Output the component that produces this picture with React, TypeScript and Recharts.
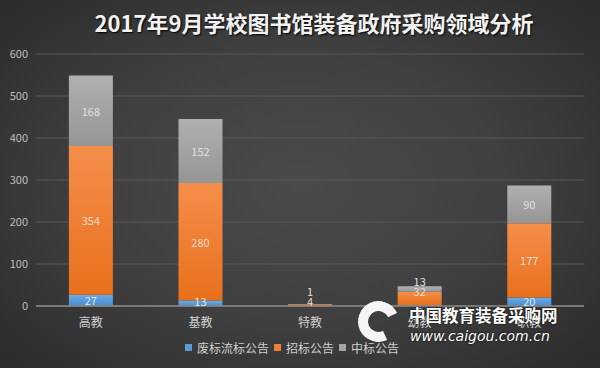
import React from 'react';
import { BarChart, Bar, XAxis, YAxis, CartesianGrid, Legend, LabelList } from 'recharts';

const categories = ['高教', '基教', '特教', '幼教', '职教'];
const failedNotices = [27, 13, 0, 2, 20];
const tenderNotices = [354, 280, 4, 32, 177];
const awardNotices = [168, 152, 1, 13, 90];
const yTicks = [0, 100, 200, 300, 400, 500, 600];
const seriesNames = ['废标流标公告', '招标公告', '中标公告'];
const seriesColors = ['#5b9bd5', '#ed7d31', '#a5a5a5'];
const title = '2017年9月学校图书馆装备政府采购领域分析';

const data = categories.map((c, i) => ({
  name: c,
  failed: failedNotices[i],
  tender: tenderNotices[i],
  award: awardNotices[i],
}));

const FONT = "'Noto Sans CJK SC', 'Noto Sans', sans-serif";

// Compute label positions (Excel-like: small segments push labels upward)
function labelPositions(i: number, k: number, base: number) {
  const f = failedNotices[i];
  const t = tenderNotices[i];
  const a = awardNotices[i];
  const blueY = f > 0 ? Math.min(base - (f * k) / 2, base - 5) : base + 5;
  const orangeY = Math.min(base - (f + t / 2) * k, blueY - 10);
  const grayY = Math.min(base - (f + t + a / 2) * k, orangeY - 10);
  return [blueY, orangeY, grayY];
}

const makeLabel = (seriesIdx: number, fill: string) => (props: any) => {
  const { x, y, width, height, value, index } = props;
  if (!value) return null;
  const k = Number(height) / Number(value);
  let below = 0;
  if (seriesIdx >= 1) below += failedNotices[index];
  if (seriesIdx >= 2) below += tenderNotices[index];
  const base = Number(y) + Number(height) + below * k;
  const ys = labelPositions(index, k, base);
  return (
    <text
      x={Number(x) + Number(width) / 2}
      y={ys[seriesIdx]}
      textAnchor="middle"
      dominantBaseline="central"
      fill={fill}
      fontSize={11}
      fontFamily={FONT}
    >
      {value}
    </text>
  );
};

const LegendContent = () => (
  <div style={{ display: 'flex', justifyContent: 'center', alignItems: 'center', fontFamily: FONT, fontSize: 12, color: '#d0d0d0', height: 18 }}>
    {seriesNames.map((n, i) => (
      <span key={i} style={{ display: 'inline-flex', alignItems: 'center', marginRight: i < seriesNames.length - 1 ? 5 : 0 }}>
        <span style={{ display: 'inline-block', width: 7, height: 7, background: seriesColors[i], marginRight: 5 }} />
        {n}
      </span>
    ))}
  </div>
);

export default function App() {
  return (
    <div
      style={{
        position: 'absolute',
        left: 0,
        top: 0,
        width: 600,
        height: 368,
        overflow: 'hidden',
        background: 'radial-gradient(ellipse 75% 80% at 50% 50%, #4a4a4a 0%, #404040 45%, #2e2e2e 85%, #262626 100%)',
      }}
    >
      <div
        style={{
          position: 'absolute',
          left: 14,
          top: 7,
          width: 600,
          textAlign: 'center',
          fontFamily: FONT,
          fontWeight: 700,
          fontSize: 22,
          color: '#f2f2f2',
          textShadow: '1px 1px 2px #000',
          lineHeight: '30px',
          whiteSpace: 'nowrap',
        }}
      >
        {title}
      </div>
      <BarChart
        width={600}
        height={368}
        data={data}
        margin={{ top: 54, right: 16, bottom: 12, left: 0 }}
        barCategoryGap="30%"
        style={{ position: 'absolute', left: 0, top: 0 }}
      >
        <defs>
          <linearGradient id="gBlue" x1="0" y1="0" x2="0" y2="1">
            <stop offset="0%" stopColor="#6aaae6" />
            <stop offset="100%" stopColor="#4a8ccb" />
          </linearGradient>
          <linearGradient id="gOrange" x1="0" y1="0" x2="0" y2="1">
            <stop offset="0%" stopColor="#f58e4b" />
            <stop offset="100%" stopColor="#e8701c" />
          </linearGradient>
          <linearGradient id="gGray" x1="0" y1="0" x2="0" y2="1">
            <stop offset="0%" stopColor="#b0b0b0" />
            <stop offset="100%" stopColor="#959595" />
          </linearGradient>
        </defs>
        <CartesianGrid vertical={false} stroke="#595959" strokeWidth={1} />
        <XAxis
          dataKey="name"
          height={32}
          tickLine={false}
          axisLine={{ stroke: '#8a8a8a', strokeWidth: 1.5 }}
          tick={{ fill: '#d0d0d0', fontSize: 12, fontFamily: FONT }}
          tickMargin={6}
        />
        <YAxis
          width={36}
          domain={[0, 600]}
          ticks={yTicks}
          axisLine={false}
          tickLine={false}
          tick={{ fill: '#bfbfbf', fontSize: 11, fontFamily: FONT }}
        />
        <Legend verticalAlign="bottom" content={<LegendContent />} />
        <Bar dataKey="failed" name={seriesNames[0]} stackId="a" fill="url(#gBlue)" isAnimationActive={false}>
          <LabelList dataKey="failed" content={makeLabel(0, '#dce6f0')} />
        </Bar>
        <Bar dataKey="tender" name={seriesNames[1]} stackId="a" fill="url(#gOrange)" isAnimationActive={false}>
          <LabelList dataKey="tender" content={makeLabel(1, '#ecdccd')} />
        </Bar>
        <Bar dataKey="award" name={seriesNames[2]} stackId="a" fill="url(#gGray)" isAnimationActive={false}>
          <LabelList dataKey="award" content={makeLabel(2, '#e0e0e0')} />
        </Bar>
      </BarChart>
      <div style={{ position: 'absolute', left: 358, top: 301, width: 41, height: 41, borderRadius: '50%', border: '10px solid rgba(255,255,255,0.95)', borderRightColor: 'transparent', boxSizing: 'border-box', transform: 'rotate(20deg)' }} />
      <div style={{ position: 'absolute', left: 409, top: 305, fontFamily: FONT, fontWeight: 700, fontSize: 16.5, color: '#ffffff', textShadow: '0 0 2px #000', whiteSpace: 'nowrap', lineHeight: '20px' }}>
        中国教育装备采购网
      </div>
      <div style={{ position: 'absolute', left: 410, top: 327, fontFamily: "'DejaVu Sans', sans-serif", fontStyle: 'italic', fontSize: 14, color: '#ffffff', textShadow: '0 0 2px #000', whiteSpace: 'nowrap', lineHeight: '18px' }}>
        www.caigou.com.cn
      </div>
    </div>
  );
}
